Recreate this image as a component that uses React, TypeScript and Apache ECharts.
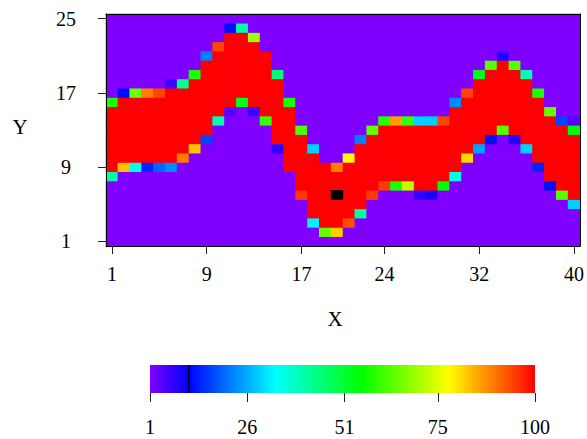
import React, { useEffect, useRef } from "react";
import * as echarts from "echarts";

// Grid axes: 40 columns (X) by 25 rows (Y)
const xCategories = [
  "1", "2", "3", "4", "5", "6", "7", "8", "9", "10",
  "11", "12", "13", "14", "15", "16", "17", "18", "19", "20",
  "21", "22", "23", "24", "25", "26", "27", "28", "29", "30",
  "31", "32", "33", "34", "35", "36", "37", "38", "39", "40",
];
const yCategories = [
  "1", "2", "3", "4", "5", "6", "7", "8", "9", "10",
  "11", "12", "13", "14", "15", "16", "17", "18", "19", "20",
  "21", "22", "23", "24", "25",
];
const xTickLabels = [1, 9, 17, 24, 32, 40];
const yTickLabels = [1, 9, 17, 25];

// Per column: lowest and highest fully covered row of the band
const bandBottom = [
  9, 10, 10, 10, 10, 10, 11, 12, 13, 15,
  16, 17, 16, 15, 12, 9, 7, 4, 3, 3,
  4, 5, 7, 8, 8, 8, 7, 7, 8, 9,
  11, 12, 13, 14, 13, 12, 10, 8, 7, 6,
];
const bandTop = [
  15, 16, 16, 16, 16, 17, 17, 18, 20, 21,
  23, 23, 22, 21, 18, 15, 12, 10, 9, 8,
  9, 11, 12, 13, 13, 13, 13, 13, 13, 15,
  16, 18, 19, 20, 19, 18, 16, 14, 13, 12,
];
// Partially covered cell just below / just above the band in each column
const lowerEdge = [
  41, 83, 35, 14, 20, 23, 89, 83, 17, 40,
  4, 53, 6, 60, 7, 1, 95, 32, 64, 82,
  93, 42, 95, 95, 58, 72, 7, 9, 55, 35,
  81, 25, 12, 63, 8, 29, 14, 12, 63, 29,
];
const upperEdge = [
  58, 12, 65, 89, 94, 6, 43, 58, 22, 94,
  12, 41, 69, 1, 45, 58, 62, 29, 1, 89,
  78, 22, 64, 59, 86, 60, 29, 29, 94, 23,
  94, 53, 63, 8, 63, 40, 58, 64, 17, 55,
];
const bandValue = 100;
const backgroundValue = 1;
// Additional single cells [x, y, value]
const extraCells: [number, number, number][] = [[40, 14, 4]];
// Cells without a value [x, y]
const missingCells: [number, number][] = [[20, 6]];

// Colour scale
const scaleMin = 1;
const scaleMax = 100;
const scaleTicks = [1, 26, 51, 75, 100];
const scaleMarker = 11;
const colorStops = [
  { offset: 0, color: "#8000ff" },
  { offset: 0.1, color: "#0000ff" },
  { offset: 0.325, color: "#00ffff" },
  { offset: 0.55, color: "#00ff00" },
  { offset: 0.775, color: "#ffff00" },
  { offset: 1, color: "#ff0000" },
];

const FONT = "Liberation Serif, Times New Roman, serif";

function hexToRgb(h: string) {
  const n = parseInt(h.slice(1), 16);
  return [(n >> 16) & 255, (n >> 8) & 255, n & 255];
}
function colorAt(t: number) {
  for (let i = 1; i < colorStops.length; i++) {
    const a = colorStops[i - 1];
    const b = colorStops[i];
    if (t <= b.offset + 1e-9) {
      const f = (t - a.offset) / (b.offset - a.offset);
      const ca = hexToRgb(a.color);
      const cb = hexToRgb(b.color);
      const c = ca.map((v, k) => Math.round(v + (cb[k] - v) * f));
      return `rgb(${c[0]},${c[1]},${c[2]})`;
    }
  }
  return colorStops[colorStops.length - 1].color;
}
// evenly spaced samples of the piecewise scale for visualMap
const paletteSamples: string[] = [];
for (let i = 0; i <= 40; i++) paletteSamples.push(colorAt(i / 40));

function buildCells() {
  const out: (number | string)[][] = [];
  const isMissing = (x: number, y: number) =>
    missingCells.some(([mx, my]) => mx === x && my === y);
  for (let c = 0; c < xCategories.length; c++) {
    for (let r = 1; r <= yCategories.length; r++) {
      const x = c + 1;
      if (isMissing(x, r)) continue;
      let v = backgroundValue;
      if (r >= bandBottom[c] && r <= bandTop[c]) v = bandValue;
      else if (r === bandBottom[c] - 1) v = lowerEdge[c];
      else if (r === bandTop[c] + 1) v = upperEdge[c];
      const extra = extraCells.find(([ex, ey]) => ex === x && ey === r);
      if (extra) v = extra[2];
      out.push([c, r - 1, v]);
    }
  }
  return out;
}

export default function App() {
  const ref = useRef<HTMLDivElement>(null);

  useEffect(() => {
    if (!ref.current) return;
    const chart = echarts.init(ref.current, null, { renderer: "svg" });
    const xShow = (i: number) => xTickLabels.includes(i + 1);
    const yShow = (i: number) => yTickLabels.includes(i + 1);
    const tickStyle = { color: "#222", width: 1 };
    const labelStyle = { color: "#000", fontFamily: FONT, fontSize: 20 };

    chart.setOption({
      animation: false,
      backgroundColor: "#fff",
      grid: [
        { left: 106, right: 7, top: 14, bottom: 193, show: true, backgroundColor: "#8000ff", borderWidth: 0 },
        { left: 150, width: 385, top: 365, height: 28 },
      ],
      xAxis: [
        {
          type: "category",
          gridIndex: 0,
          data: xCategories,
          position: "bottom",
          z: 5,
          axisLine: { show: true, lineStyle: { color: "#000", width: 1 } },
          axisTick: { show: true, interval: xShow, alignWithLabel: true, length: 8, lineStyle: tickStyle },
          axisLabel: { interval: xShow, margin: 18, ...labelStyle },
          splitLine: { show: false },
        },
        {
          type: "category",
          gridIndex: 0,
          data: xCategories,
          position: "top",
          z: 5,
          axisLine: { show: true, lineStyle: { color: "#000", width: 1 } },
          axisTick: { show: false },
          axisLabel: { show: false },
        },
        {
          type: "value",
          gridIndex: 1,
          min: scaleMin,
          max: scaleMax,
          axisLine: { show: false },
          axisTick: { show: true, customValues: scaleTicks, length: 9, lineStyle: tickStyle },
          axisLabel: { customValues: scaleTicks, margin: 24, ...labelStyle },
          splitLine: { show: false },
        },
      ],
      yAxis: [
        {
          type: "category",
          gridIndex: 0,
          data: yCategories,
          position: "left",
          z: 5,
          axisLine: { show: true, lineStyle: { color: "#000", width: 1 } },
          axisTick: { show: true, interval: yShow, alignWithLabel: true, length: 8, lineStyle: tickStyle },
          axisLabel: {
            interval: yShow,
            margin: 26,
            formatter: (v: string) => `{c|${v}}`,
            rich: { c: { width: 28, align: "center", ...labelStyle } },
            ...labelStyle,
          },
          splitLine: { show: false },
        },
        {
          type: "category",
          gridIndex: 0,
          data: yCategories,
          position: "right",
          z: 5,
          axisLine: { show: true, lineStyle: { color: "#000", width: 1 } },
          axisTick: { show: false },
          axisLabel: { show: false },
        },
        { type: "value", gridIndex: 1, min: 0, max: 1, show: false },
      ],
      visualMap: [
        {
          type: "continuous",
          show: false,
          min: scaleMin,
          max: scaleMax,
          seriesIndex: 0,
          dimension: 2,
          inRange: { color: paletteSamples },
        },
        {
          type: "continuous",
          show: false,
          min: 0,
          max: 1,
          seriesIndex: 1,
          dimension: 2,
          inRange: { color: ["#000000", "#000000"] },
        },
      ],
      series: [
        {
          type: "heatmap",
          xAxisIndex: 0,
          yAxisIndex: 0,
          data: buildCells(),
          itemStyle: { borderWidth: 0 },
          emphasis: { disabled: true },
        },
        {
          type: "heatmap",
          xAxisIndex: 0,
          yAxisIndex: 0,
          data: missingCells.map(([x, y]) => [x - 1, y - 1, 0]),
          emphasis: { disabled: true },
        },
        {
          type: "custom",
          xAxisIndex: 2,
          yAxisIndex: 2,
          data: [[scaleMin, 0]],
          silent: true,
          renderItem: (_params: any, api: any) => {
            const p0 = api.coord([scaleMin, 0]);
            const p1 = api.coord([scaleMax, 1]);
            const m = api.coord([scaleMarker, 0]);
            return {
              type: "group",
              children: [
                {
                  type: "rect",
                  shape: { x: p0[0], y: p1[1], width: p1[0] - p0[0], height: p0[1] - p1[1] },
                  style: { fill: new echarts.graphic.LinearGradient(0, 0, 1, 0, colorStops) },
                },
                {
                  type: "line",
                  shape: { x1: m[0], y1: p1[1], x2: m[0], y2: p0[1] },
                  style: { stroke: "#000", lineWidth: 1.5 },
                },
              ],
            };
          },
        },
      ],
      graphic: [
        {
          type: "text",
          x: 335,
          y: 319,
          style: { text: "X", fontFamily: FONT, fontSize: 21, fill: "#000", align: "center", verticalAlign: "middle" },
        },
        {
          type: "text",
          x: 20,
          y: 127,
          style: { text: "Y", fontFamily: FONT, fontSize: 21, fill: "#000", align: "center", verticalAlign: "middle" },
        },
      ],
    });
    return () => chart.dispose();
  }, []);

  return (
    <div
      ref={ref}
      style={{ position: "fixed", left: 0, top: 0, width: 587, height: 439, background: "#fff" }}
    />
  );
}
